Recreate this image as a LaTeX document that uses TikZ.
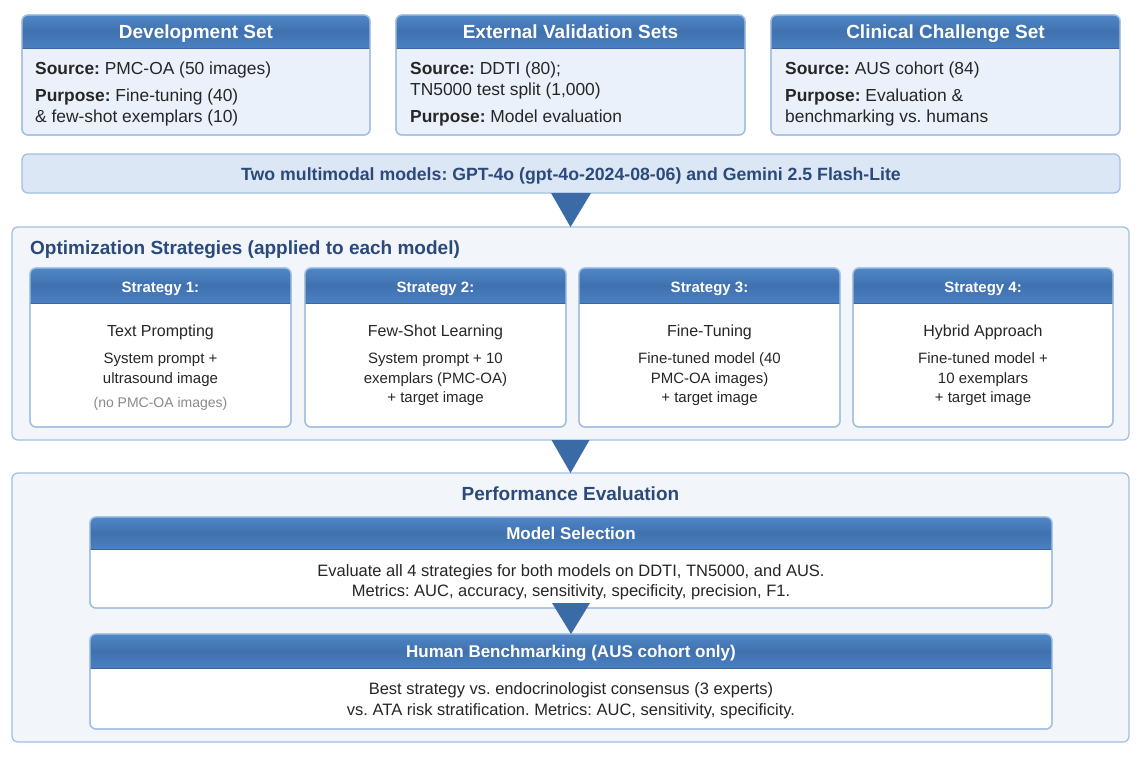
\documentclass[tikz,border=0pt]{standalone}
\usepackage{fontspec}
\setmainfont{Liberation Sans}
\frenchspacing
\definecolor{bordc}{HTML}{A3C0E2}
\definecolor{topfill}{HTML}{EAF1FA}
\definecolor{barfill}{HTML}{DCE7F5}
\definecolor{contfill}{HTML}{F2F6FB}
\definecolor{hdtop}{HTML}{4F87C7}
\definecolor{hdmid}{HTML}{4071AF}
\definecolor{hdbot}{HTML}{4A80C1}
\definecolor{hdline}{HTML}{3A67A2}
\definecolor{titc}{HTML}{2B4A7B}
\definecolor{txtc}{HTML}{262626}
\definecolor{grayc}{HTML}{8A8A8A}
\definecolor{tric}{HTML}{3B6BA7}
\tikzset{
 box/.style={rounded corners=6pt, draw=bordc, line width=1.3pt, inner sep=0pt, outer sep=0pt},
 hdrtxt/.style={text=white, font=\bfseries\fontsize{19}{22}\selectfont, anchor=base, inner sep=0pt},
 stxt/.style={text=white, font=\bfseries\fontsize{15}{18}\selectfont, anchor=base, inner sep=0pt},
 mstxt/.style={text=white, font=\bfseries\fontsize{17}{20}\selectfont, anchor=base, inner sep=0pt},
 btxt/.style={text=txtc, font=\fontsize{17.4}{20}\selectfont, anchor=base west, inner sep=0pt},
 ctxt/.style={text=txtc, font=\fontsize{15}{18}\selectfont, anchor=base, inner sep=0pt},
 ttl/.style={text=txtc, font=\fontsize{16}{19}\selectfont, anchor=base, inner sep=0pt},
 note/.style={text=grayc, font=\fontsize{14}{17}\selectfont, anchor=base, inner sep=0pt},
 bigttl/.style={text=titc, font=\bfseries\fontsize{19}{22}\selectfont, inner sep=0pt},
 bartxt/.style={text=titc, font=\bfseries\fontsize{17.7}{20}\selectfont, anchor=base, inner sep=0pt},
 mtxt/.style={text=txtc, font=\fontsize{16.5}{19}\selectfont, anchor=base, inner sep=0pt},
 tri/.style={fill=tric, draw=none},
}
% name, x1, y1, x2, y2, header bottom y, body fill
\newcommand{\HBox}[7]{%
 \node[box, fill=#7, minimum width={#4-#2}, minimum height={#5-#3}] (#1) at ({(#2+#4)/2},{(#3+#5)/2}) {};
 \begin{scope}
  \clip[rounded corners=6pt] (#2,#3) rectangle (#4,#5);
  \shade[top color=hdtop, bottom color=hdbot, middle color=hdmid] (#2,#3) rectangle (#4,#6);
  \draw[hdline, line width=1pt] (#2,#6) -- (#4,#6);
 \end{scope}
 \draw[box] (#2,#3) rectangle (#4,#5);
}
\begin{document}
\begin{tikzpicture}[x=1pt, y=-1pt]
\fill[white] (0,0) rectangle (1142,756);
\useasboundingbox (0,0) rectangle (1142,756);

% ---- top data sets
\HBox{dev}{22}{15}{370}{135}{48}{topfill}
\node[hdrtxt] (devh) at (196,38) {Development Set};
\node[btxt] (devs) at (35,74) {\textbf{Source:} PMC-OA (50 images)};
\node[btxt] (devp) at (35,101) {\textbf{Purpose:} Fine-tuning (40)};
\node[btxt] (devp2) at (35,122) {\& few-shot exemplars (10)};

\HBox{ext}{396}{15}{745}{135}{48}{topfill}
\node[hdrtxt] (exth) at (570.5,38) {External Validation Sets};
\node[btxt] (exts) at (410,74) {\textbf{Source:} DDTI (80);};
\node[btxt] (exts2) at (410,95) {TN5000 test split (1,000)};
\node[btxt] (extp) at (410,122) {\textbf{Purpose:} Model evaluation};

\HBox{cli}{771}{15}{1120}{135}{48}{topfill}
\node[hdrtxt] (clih) at (945.5,38) {Clinical Challenge Set};
\node[btxt] (clis) at (785,74) {\textbf{Source:} AUS cohort (84)};
\node[btxt] (clip) at (785,101) {\textbf{Purpose:} Evaluation \&};
\node[btxt] (clip2) at (785,122) {benchmarking vs. humans};

% ---- models bar
\node[box, fill=barfill, minimum width=1098, minimum height=39] (models) at (571,173.5) {};
\node[bartxt] (modt) at (571,180) {Two multimodal models: GPT-4o (gpt-4o-2024-08-06) and Gemini 2.5 Flash-Lite};

% ---- optimization container
\node[box, fill=contfill, minimum width=1117, minimum height=213] (opt) at (570.5,333.5) {};
\node[bigttl, anchor=base west] (optt) at (30,254) {Optimization Strategies (applied to each model)};

\HBox{sa}{30}{268}{291}{427}{303}{white}
\node[stxt] (sah) at (160.5,292) {Strategy 1:};
\node[ttl] (sat) at (160.5,336) {Text Prompting};
\node[ctxt] (sa1) at (160.5,363) {System prompt +};
\node[ctxt] (sa2) at (160.5,383) {ultrasound image};
\node[note] (sa3) at (160.5,407) {(no PMC-OA images)};

\HBox{sb}{305}{268}{566}{427}{303}{white}
\node[stxt] (sbh) at (435.5,292) {Strategy 2:};
\node[ttl] (sbt) at (435.5,336) {Few-Shot Learning};
\node[ctxt] (sb1) at (435.5,363) {System prompt + 10};
\node[ctxt] (sb2) at (435.5,383) {exemplars (PMC-OA)};
\node[ctxt] (sb3) at (435.5,402) {+ target image};

\HBox{sc}{579}{268}{840}{427}{303}{white}
\node[stxt] (sch) at (709.5,292) {Strategy 3:};
\node[ttl] (sct) at (709.5,336) {Fine-Tuning};
\node[ctxt] (sc1) at (709.5,363) {Fine-tuned model (40};
\node[ctxt] (sc2) at (709.5,383) {PMC-OA images)};
\node[ctxt] (sc3) at (709.5,402) {+ target image};

\HBox{sd}{853}{268}{1113}{427}{303}{white}
\node[stxt] (sdh) at (983,292) {Strategy 4:};
\node[ttl] (sdt) at (983,336) {Hybrid Approach};
\node[ctxt] (sd1) at (983,363) {Fine-tuned model +};
\node[ctxt] (sd2) at (983,383) {10 exemplars};
\node[ctxt] (sd3) at (983,402) {+ target image};

% ---- performance container
\node[box, fill=contfill, minimum width=1117, minimum height=269] (perf) at (570.5,607.5) {};
\node[bigttl, anchor=base] (perft) at (570.5,500) {Performance Evaluation};

\HBox{ms}{90}{517}{1052}{608}{549}{white}
\node[mstxt] (msh) at (571,539) {Model Selection};
\node[mtxt] (ms1) at (571,576) {Evaluate all 4 strategies for both models on DDTI, TN5000, and AUS.};
\node[mtxt] (ms2) at (571,596) {Metrics: AUC, accuracy, sensitivity, specificity, precision, F1.};

\HBox{hb}{90}{634}{1052}{729}{668}{white}
\node[mstxt] (hbh) at (571,657) {Human Benchmarking (AUS cohort only)};
\node[mtxt] (hb1) at (571,694) {Best strategy vs. endocrinologist consensus (3 experts)};
\node[mtxt] (hb2) at (571,715) {vs. ATA risk stratification. Metrics: AUC, sensitivity, specificity.};

% ---- arrows
\fill[tri] ([xshift=-20pt]models.south) -- ([xshift=20pt]models.south) -- (opt.north) -- cycle;
\fill[tri] ([xshift=-19pt]opt.south) -- ([xshift=19pt]opt.south) -- (perf.north) -- cycle;
\fill[tri] ([xshift=-19pt,yshift=5pt]ms.south) -- ([xshift=19pt,yshift=5pt]ms.south) -- (hb.north) -- cycle;
\end{tikzpicture}
\end{document}
